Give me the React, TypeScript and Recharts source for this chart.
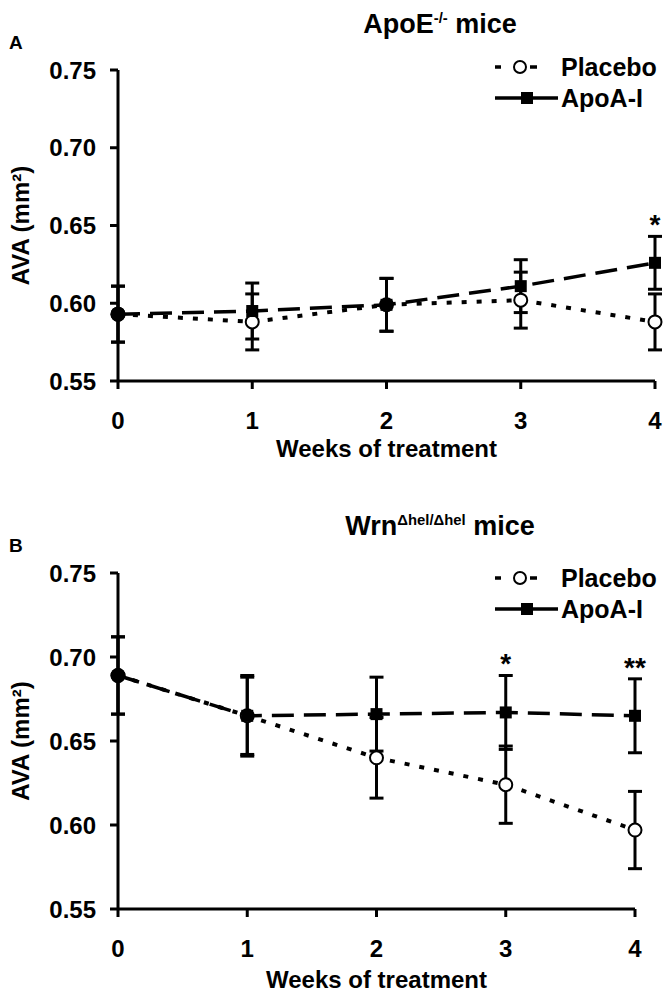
import React from 'react';
import { LineChart, Line, XAxis, YAxis, ErrorBar, Legend, ReferenceDot } from 'recharts';

const weeks = [0, 1, 2, 3, 4];
const yTicks = [0.55, 0.6, 0.65, 0.7, 0.75];

// Panel A: ApoE-/- mice
const placeboA = [0.593, 0.588, 0.599, 0.602, 0.588];
const placeboErrA = [0.018, 0.018, 0.017, 0.018, 0.018];
const apoaA = [0.593, 0.595, 0.599, 0.611, 0.626];
const apoaErrA = [0.018, 0.018, 0.017, 0.017, 0.017];
const sigWeeksA = [4];
const sigMarksA = ['*'];

// Panel B: Wrn Δhel/Δhel mice
const placeboB = [0.689, 0.665, 0.64, 0.624, 0.597];
const placeboErrB = [0.023, 0.024, 0.024, 0.023, 0.023];
const apoaB = [0.689, 0.665, 0.666, 0.667, 0.665];
const apoaErrB = [0.023, 0.023, 0.022, 0.022, 0.022];
const sigWeeksB = [3, 4];
const sigMarksB = ['*', '**'];

const FONT = '"Liberation Sans", Arial, Helvetica, sans-serif';

const buildRows = (p: number[], pe: number[], a: number[], ae: number[]) =>
  weeks.map((w, i) => ({ week: w, placebo: p[i], placeboErr: pe[i], apoa: a[i], apoaErr: ae[i] }));

const PlaceboDot = (props: any) => {
  const { cx, cy, index } = props;
  if (cx == null || cy == null) return <g key={`pd-${index}`} />;
  return <circle key={`pd-${index}`} cx={cx} cy={cy} r={6.5} fill="#fff" stroke="#000" strokeWidth={2} />;
};

const ApoaDot = (props: any) => {
  const { cx, cy, index } = props;
  if (cx == null || cy == null) return <g key={`ad-${index}`} />;
  if (index === 0) return <circle key={`ad-${index}`} cx={cx} cy={cy} r={7.5} fill="#000" />;
  return <rect key={`ad-${index}`} x={cx - 6} y={cy - 6} width={12} height={12} fill="#000" />;
};

const renderLegend = () => (
  <svg width={180} height={64} style={{ display: 'block' }}>
    <line x1={5} y1={15} x2={11} y2={15} stroke="#000" strokeWidth={3.5} />
    <circle cx={30} cy={15} r={6} fill="#fff" stroke="#000" strokeWidth={2} />
    <line x1={40} y1={15} x2={47} y2={15} stroke="#000" strokeWidth={3.5} />
    <text x={71} y={24} fontSize={25} fontWeight="bold" fontFamily={FONT} fill="#000">Placebo</text>
    <line x1={5} y1={46} x2={68} y2={46} stroke="#000" strokeWidth={3.5} />
    <rect x={31} y={40} width={12} height={12} fill="#000" />
    <text x={71} y={55} fontSize={25} fontWeight="bold" fontFamily={FONT} fill="#000">ApoA-I</text>
  </svg>
);

type PanelProps = {
  rows: any[];
  sigWeeks: number[];
  sigMarks: string[];
  width: number;
  height: number;
  margin: { top: number; right: number; left: number; bottom: number };
  xAxisHeight: number;
  legendTop: number;
};

const Panel = ({ rows, sigWeeks, sigMarks, width, height, margin, xAxisHeight, legendTop }: PanelProps) => (
  <LineChart width={width} height={height} data={rows} margin={margin}>
    <XAxis
      dataKey="week"
      type="number"
      domain={[0, 4]}
      ticks={weeks}
      allowDecimals={false}
      height={xAxisHeight}
      tickSize={8}
      tickMargin={23}
      axisLine={{ stroke: '#000', strokeWidth: 3 }}
      tickLine={{ stroke: '#000', strokeWidth: 3 }}
      tick={{ fill: '#000', fontSize: 24, fontWeight: 'bold', fontFamily: FONT }}
      label={{
        value: 'Weeks of treatment',
        position: 'insideBottom',
        offset: 0,
        style: { fill: '#000', fontSize: 24, fontWeight: 'bold', fontFamily: FONT },
      }}
    />
    <YAxis
      type="number"
      domain={[0.55, 0.75]}
      ticks={yTicks}
      width={118}
      tickSize={8}
      tickMargin={14}
      allowDataOverflow
      tickFormatter={(v: number) => v.toFixed(2)}
      axisLine={{ stroke: '#000', strokeWidth: 3 }}
      tickLine={{ stroke: '#000', strokeWidth: 3 }}
      tick={{ fill: '#000', fontSize: 24, fontWeight: 'bold', fontFamily: FONT }}
      label={{
        value: 'AVA (mm²)',
        angle: -90,
        position: 'insideLeft',
        offset: 20,
        style: { textAnchor: 'middle', fill: '#000', fontSize: 24, fontWeight: 'bold', fontFamily: FONT },
      }}
    />
    <Legend
      layout="vertical"
      align="center"
      verticalAlign="middle"
      content={renderLegend}
      wrapperStyle={{ position: 'absolute', left: 490, top: legendTop, width: 180, height: 64 }}
    />
    <Line
      dataKey="placebo"
      name="Placebo"
      type="linear"
      stroke="#000"
      strokeWidth={4}
      strokeDasharray="5 10"
      dot={PlaceboDot}
      activeDot={false}
      isAnimationActive={false}
    >
      <ErrorBar dataKey="placeboErr" direction="y" width={7} strokeWidth={3} stroke="#000" isAnimationActive={false} />
    </Line>
    <Line
      dataKey="apoa"
      name="ApoA-I"
      type="linear"
      stroke="#000"
      strokeWidth={3.5}
      strokeDasharray="22 10"
      dot={ApoaDot}
      activeDot={false}
      isAnimationActive={false}
    >
      <ErrorBar dataKey="apoaErr" direction="y" width={7} strokeWidth={3} stroke="#000" isAnimationActive={false} />
    </Line>
    {sigWeeks.map((w, i) => {
      const row = rows.find((r) => r.week === w);
      return (
        <ReferenceDot
          key={`sig-${w}`}
          x={w}
          y={row.apoa + row.apoaErr}
          r={0}
          ifOverflow="visible"
          label={{ value: sigMarks[i], position: 'top', offset: 2, fill: '#000', fontSize: 28, fontWeight: 'bold', fontFamily: FONT }}
        />
      );
    })}
  </LineChart>
);

const textStyle: React.CSSProperties = { fontFamily: FONT, fontWeight: 'bold', color: '#000', position: 'absolute' };

export default function App() {
  const rowsA = buildRows(placeboA, placeboErrA, apoaA, apoaErrA);
  const rowsB = buildRows(placeboB, placeboErrB, apoaB, apoaErrB);
  return (
    <div style={{ position: 'absolute', left: 0, top: 0, width: 670, height: 996, background: '#fff', overflow: 'hidden' }}>
      <div style={{ ...textStyle, left: 0, top: 0, width: 880, textAlign: 'center', fontSize: 27, lineHeight: '36px' }}>
        ApoE<sup style={{ fontSize: '55%' }}>-/-</sup> mice
      </div>
      <div style={{ ...textStyle, left: 9, top: 32, fontSize: 19, lineHeight: '22px' }}>A</div>
      <div style={{ position: 'absolute', left: 0, top: 0 }}>
        <Panel
          rows={rowsA}
          sigWeeks={sigWeeksA}
          sigMarks={sigMarksA}
          width={670}
          height={480}
          margin={{ top: 70, right: 15, left: 0, bottom: 23 }}
          xAxisHeight={76}
          legendTop={52}
        />
      </div>
      <div style={{ ...textStyle, left: 0, top: 502, width: 880, textAlign: 'center', fontSize: 27, lineHeight: '36px' }}>
        Wrn<sup style={{ fontSize: '55%' }}>Δhel/Δhel</sup> mice
      </div>
      <div style={{ ...textStyle, left: 9, top: 535, fontSize: 19, lineHeight: '22px' }}>B</div>
      <div style={{ position: 'absolute', left: 0, top: 496 }}>
        <Panel
          rows={rowsB}
          sigWeeks={sigWeeksB}
          sigMarks={sigMarksB}
          width={670}
          height={500}
          margin={{ top: 77, right: 35, left: 0, bottom: 8 }}
          xAxisHeight={79}
          legendTop={67}
        />
      </div>
    </div>
  );
}
